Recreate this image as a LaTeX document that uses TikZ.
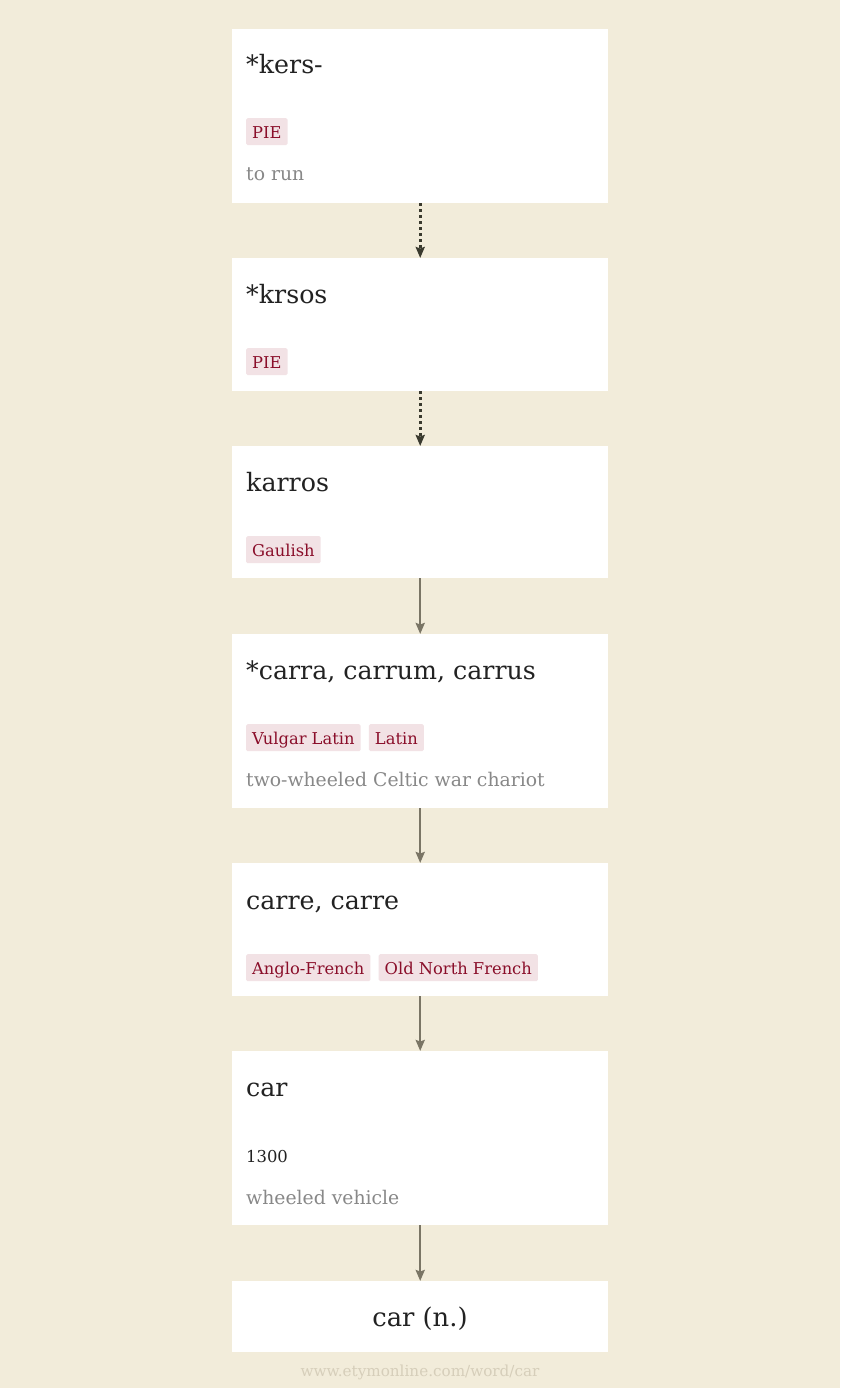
\documentclass[tikz,border=0pt]{standalone}
\usepackage{fontspec}
\setmainfont{DejaVu Serif}
\usetikzlibrary{arrows.meta}
\definecolor{bg}{RGB}{242,236,218}
\definecolor{tagbg}{RGB}{242,226,229}
\definecolor{tagfg}{RGB}{138,14,42}
\definecolor{glossc}{RGB}{136,136,136}
\definecolor{titlec}{RGB}{34,34,34}
\definecolor{arrowc}{RGB}{122,117,101}
\definecolor{dotc}{RGB}{58,58,46}
\definecolor{footc}{RGB}{214,206,186}
\begin{document}
\begin{tikzpicture}[x=1pt,y=-1pt,
  card/.style={fill=white, draw=none, anchor=north west, inner sep=0pt, minimum width=376pt, minimum height=#1},
  wordtitle/.style={anchor=base west, inner sep=0pt, text=titlec, font=\fontsize{25.3}{29}\selectfont},
  tagbox/.style={anchor=north west, fill=tagbg, text=tagfg, rounded corners=1.5pt, inner xsep=6pt, inner ysep=0pt, minimum height=27pt, text height=15pt, text depth=0.5pt, font=\fontsize{16.3}{19}\selectfont},
  glosstext/.style={anchor=base west, inner sep=0pt, text=glossc, font=\fontsize{18.8}{22}\selectfont},
  datetext/.style={anchor=base west, inner sep=0pt, text=titlec, font=\fontsize{16.4}{20}\selectfont},
  solidlink/.style={draw=arrowc, line width=2.5pt, -{Stealth[length=11pt,width=9pt,inset=1.5pt]}},
  dottedlink/.style={draw=dotc, line width=3pt, dash pattern=on 3pt off 3pt, -{Stealth[length=11pt,width=9pt,inset=1.5pt]}}
]
\fill[bg] (0,0) rectangle (840,1388);
\useasboundingbox (0,0) rectangle (840,1388);

% cards
\node[card=174pt] (b1) at (232,29) {};
\node[card=133pt] (b2) at (232,258) {};
\node[card=132pt] (b3) at (232,446) {};
\node[card=174pt] (b4) at (232,634) {};
\node[card=133pt] (b5) at (232,863) {};
\node[card=174pt] (b6) at (232,1051) {};
\node[card=71pt]  (b7) at (232,1281) {};

% box 1
\node[wordtitle] (t1) at (246,74) {*kers-};
\node[tagbox] (g1) at (246,118) {PIE};
\node[glosstext] (d1) at (246,181) {to run};
% box 2
\node[wordtitle] (t2) at (246,303) {*krsos};
\node[tagbox] (g2) at (246,348) {PIE};
% box 3
\node[wordtitle] (t3) at (246,491) {karros};
\node[tagbox] (g3) at (246,536) {Gaulish};
% box 4
\node[wordtitle] (t4) at (246,679) {*carra, carrum, carrus};
\node[tagbox] (g4a) at (246,724) {Vulgar Latin};
\node[tagbox, anchor=north west] (g4b) at ([xshift=8pt]g4a.north east) {Latin};
\node[glosstext] (d4) at (246,786) {two-wheeled Celtic war chariot};
% box 5
\node[wordtitle] (t5) at (246,909) {carre, carre};
\node[tagbox] (g5a) at (246,954) {Anglo-French};
\node[tagbox, anchor=north west] (g5b) at ([xshift=8pt]g5a.north east) {Old North French};
% box 6
\node[wordtitle] (t6) at (246,1096) {car};
\node[datetext] (y6) at (246,1162) {1300};
\node[glosstext] (d6) at (246,1204) {wheeled vehicle};
% box 7
\node[anchor=base, inner sep=0pt, text=titlec, font=\fontsize{25.8}{29}\selectfont] (t7) at (420,1326) {car (n.)};

% connectors
\draw[dottedlink] (b1.south) -- (b2.north);
\draw[dottedlink] (b2.south) -- (b3.north);
\draw[solidlink] (b3.south) -- (b4.north);
\draw[solidlink] (b4.south) -- (b5.north);
\draw[solidlink] (b5.south) -- (b6.north);
\draw[solidlink] (b6.south) -- (b7.north);

% footer
\node[anchor=base, inner sep=0pt, text=footc, font=\fontsize{15.2}{18}\selectfont] (foot) at (420,1376) {www.etymonline.com/word/car};
\end{tikzpicture}
\end{document}
